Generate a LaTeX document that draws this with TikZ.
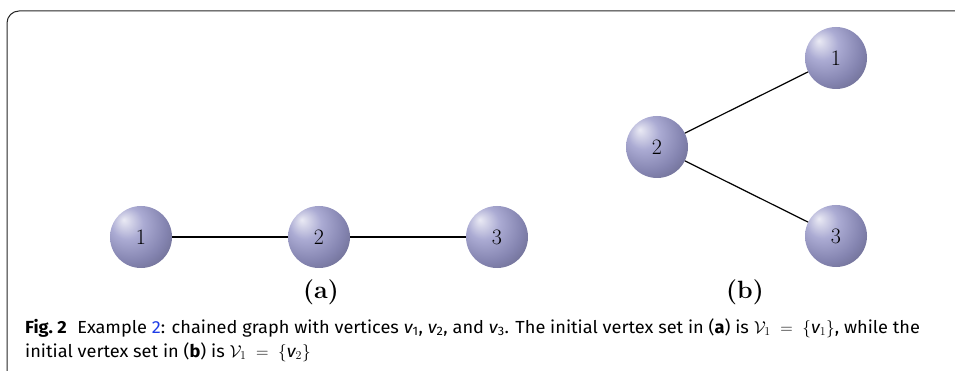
\documentclass[tikz,border=0pt]{standalone}
\usepackage{fontspec}
\usepackage{xcolor}
\newfontfamily\capfont[FakeStretch=1.04]{Fira Sans}
\definecolor{ballc}{RGB}{150,150,200}
\definecolor{linkblue}{RGB}{30,60,230}
\pgfdeclareradialshading{myball}{\pgfpoint{-14bp}{14bp}}{%
  color(0bp)=(ballc!20!white);
  color(13bp)=(ballc!80!white);
  color(28bp)=(ballc!88!black);
  color(46bp)=(ballc!60!black);
  color(64bp)=(ballc!45!black)}
\begin{document}
\begin{tikzpicture}[x=1pt,y=-1pt,
  vball/.style={circle, shading=myball, minimum size=62pt, inner sep=0pt, font=\fontsize{22}{22}\selectfont},
  edge/.style={line width=1.2pt, black},
  sublabel/.style={font=\fontsize{25}{25}\selectfont\bfseries},
  capline/.style={anchor=base west, inner sep=0pt, font=\capfont\fontsize{17.5}{19}\selectfont}]
\useasboundingbox (0,0) rectangle (955,371);
% frame
\draw[line width=1pt, black!85, rounded corners=12pt] (7,371) -- (7,11) -- (955,11);
% (a)
\node[vball] (a1) at (141,237) {1};
\node[vball] (a2) at (319,237) {2};
\node[vball] (a3) at (497,237) {3};
\draw[edge] (a1) -- (a2);
\draw[edge] (a2) -- (a3);
\node[sublabel] (la) at (321,292) {(a)};
% (b)
\begin{scope}
\clip (0,0) rectangle (867,371);
\node[vball] (b1) at (836,58) {1};
\node[vball] (b3) at (836,236) {3};
\end{scope}
\node[vball] (b2) at (657,147) {2};
\draw[edge] (b2) -- (b1);
\draw[edge] (b2) -- (b3);
\node[sublabel] (lb) at (745,292) {(b)};
% caption
\node[capline] (c1) at (25,333) {{\bfseries Fig.~2}\hspace{0.6em}Example \textcolor{linkblue}{2}: chained graph with vertices {\itshape v}\textsubscript{1}, {\itshape v}\textsubscript{2}, and {\itshape v}\textsubscript{3}. The initial vertex set in ({\bfseries a}) is $\mathcal{V}_1\;=\;\{\mbox{\capfont\itshape v}_1\}$, while the};
\node[capline] (c2) at (25,357) {initial vertex set in ({\bfseries b}) is $\mathcal{V}_1\;=\;\{\mbox{\capfont\itshape v}_2\}$};
\end{tikzpicture}
\end{document}
